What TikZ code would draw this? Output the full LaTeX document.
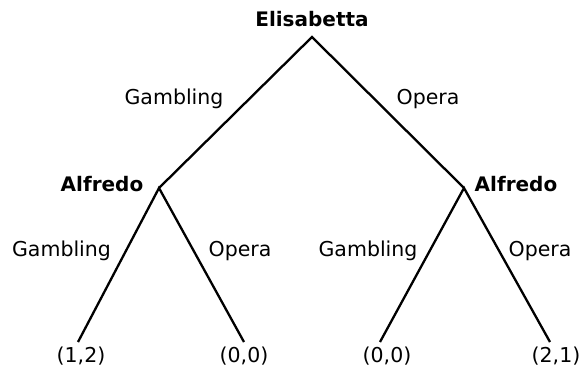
\documentclass[tikz,border=0pt]{standalone}
\usepackage{fontspec}
\setmainfont{DejaVu Sans}
\begin{document}
\begin{tikzpicture}[x=1pt,y=-1pt,
  every node/.style={font=\fontsize{20.5}{24}\selectfont, inner sep=0pt},
  player/.style={font=\fontsize{20}{24}\selectfont\bfseries},
  move/.style={line width=2.3pt},
  lbl/.style={}]
  \useasboundingbox (0,0) rectangle (581,369);
  % decision points
  \coordinate (root) at (312,37);
  \coordinate (aL) at (159,188);
  \coordinate (aR) at (464,188);
  \coordinate (l1) at (78,342);
  \coordinate (l2) at (244,342);
  \coordinate (l3) at (380,342);
  \coordinate (l4) at (550,342);
  % player names
  \node[player] (nE) at (312,19) {Elisabetta};
  \node[player] (nAL) at (102,184) {Alfredo};
  \node[player] (nAR) at (516,184) {Alfredo};
  % branches
  \draw[move] (aL) -- (root) -- (aR);
  \draw[move] (l1) -- (aL) -- (l2);
  \draw[move] (l3) -- (aR) -- (l4);
  % action labels
  \node[lbl] (g0) at (174,99) {Gambling};
  \node[lbl] (o0) at (428,99) {Opera};
  \node[lbl] (g1) at (61.5,251) {Gambling};
  \node[lbl] (o1) at (240,251) {Opera};
  \node[lbl] (g2) at (368,251) {Gambling};
  \node[lbl] (o2) at (540,251) {Opera};
  % payoffs
  \node (p1) at (81,356) {(1,2)};
  \node (p2) at (244,356) {(0,0)};
  \node (p3) at (387,356) {(0,0)};
  \node (p4) at (556,356) {(2,1)};
\end{tikzpicture}
\end{document}
